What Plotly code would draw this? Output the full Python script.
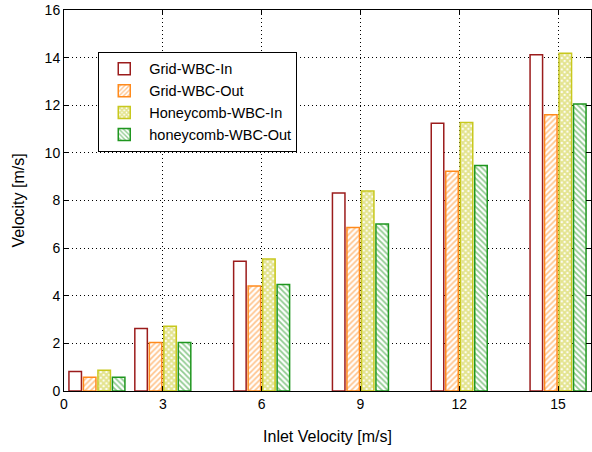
import plotly.graph_objects as go

inlet = [1, 3, 6, 9, 12, 15]
grid_in = [0.82, 2.62, 5.45, 8.32, 11.24, 14.12]
grid_out = [0.58, 2.04, 4.41, 6.87, 9.23, 11.6]
honey_in = [0.87, 2.72, 5.54, 8.4, 11.28, 14.18]
honey_out = [0.58, 2.04, 4.47, 7.01, 9.47, 12.05]

series = [
    ("Grid-WBC-In", grid_in, "#9b1c1c", "", -0.85, 0),
    ("Grid-WBC-Out", grid_out, "#ff8a1c", "/", -0.41, 0.45),
    ("Honeycomb-WBC-In", honey_in, "#c8c81e", "x", 0.03, 0.75),
    ("honeycomb-WBC-Out", honey_out, "#1f961f", "\\", 0.47, 0.45),
]

fig = go.Figure()
for name, vals, col, shape, off, sol in series:
    marker = dict(color="white", line=dict(color=col, width=1.5))
    if shape:
        marker["pattern"] = dict(shape=shape, fgcolor=col, bgcolor="white",
                                 size=4, solidity=sol, fillmode="overlay")
    fig.add_trace(go.Bar(x=inlet, y=vals, name=name, width=0.38, offset=off,
                         marker=marker))

axis_common = dict(showline=True, linecolor="black", linewidth=1, mirror="allticks",
                   ticks="inside", ticklen=5, tickcolor="black",
                   showgrid=True, gridcolor="black", griddash="1px,3px", gridwidth=1,
                   zeroline=False, tickfont=dict(size=14, color="black"))

fig.update_layout(
    width=592, height=452,
    margin=dict(l=64, r=1, t=10, b=61),
    barmode="overlay",
    plot_bgcolor="white", paper_bgcolor="white",
    font=dict(family="Liberation Sans, Arial", size=14, color="black"),
    xaxis=dict(range=[0, 16], tickvals=[0, 3, 6, 9, 12, 15],
               title=dict(text="Inlet Velocity [m/s]", font=dict(size=16), standoff=20),
               **axis_common),
    yaxis=dict(range=[0, 16], dtick=2,
               title=dict(text="Velocity [m/s]", font=dict(size=16), standoff=16),
               **axis_common),
    legend=dict(x=0.065, y=0.89, xanchor="left", yanchor="top",
                bgcolor="white", bordercolor="black", borderwidth=1,
                font=dict(size=14.5), tracegroupgap=0, itemwidth=40),
)

fig.write_html("out.html")
